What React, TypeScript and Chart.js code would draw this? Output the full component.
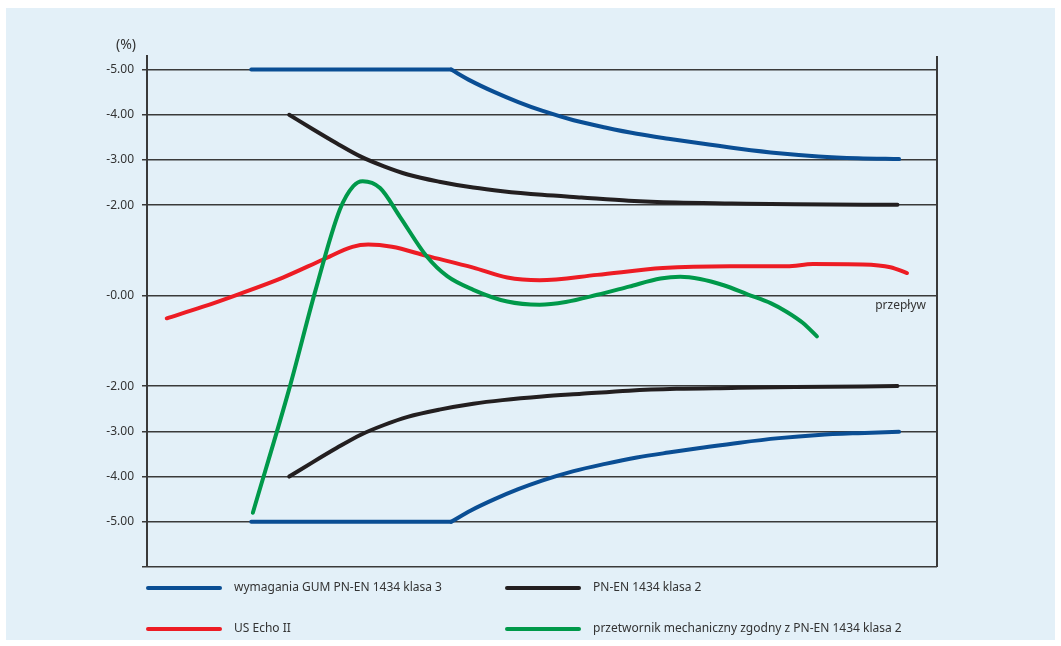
import { useEffect, useRef } from 'react';
import { Chart, registerables } from 'chart.js';

Chart.register(...registerables);

// ---- data (x: flow, arbitrary units 0..100; y: error in %) ----
const GUM_FLAT_X = [13.2, 38.5];
const GUM_UPPER_FLAT_Y = [5.0, 5.0];
const GUM_LOWER_FLAT_Y = [-5.0, -5.0];
const GUM_CURVE_X = [38.5, 41, 44, 47, 50, 54, 58, 62, 66, 70, 75, 80, 85, 90, 95.2];
const GUM_UPPER_CURVE_Y = [5.0, 4.75, 4.5, 4.28, 4.09, 3.88, 3.72, 3.58, 3.47, 3.37, 3.25, 3.15, 3.08, 3.04, 3.02];
const GUM_LOWER_CURVE_Y = [-5.0, -4.75, -4.5, -4.28, -4.09, -3.88, -3.72, -3.58, -3.47, -3.37, -3.25, -3.15, -3.08, -3.04, -3.01];

const PN_X = [18, 21, 24, 27, 30, 33, 37, 41.3, 45, 50, 55, 61, 67, 74, 82, 95];
const PN_UPPER_Y = [4.0, 3.68, 3.37, 3.08, 2.86, 2.68, 2.52, 2.39, 2.31, 2.23, 2.17, 2.1, 2.06, 2.04, 2.02, 2.01];
const PN_LOWER_Y = [-4.0, -3.68, -3.37, -3.08, -2.86, -2.68, -2.52, -2.39, -2.31, -2.23, -2.17, -2.1, -2.06, -2.04, -2.02, -2.0];

const ECHO_X = [2.5, 7, 11.4, 17.2, 22.3, 26, 28, 31, 35.4, 41.3, 45.6, 49.7, 57, 65.3, 73.8, 81, 84.3, 90.6, 94.1, 96.2];
const ECHO_Y = [-0.5, -0.25, 0.02, 0.4, 0.8, 1.08, 1.13, 1.08, 0.88, 0.62, 0.4, 0.34, 0.46, 0.61, 0.65, 0.65, 0.7, 0.69, 0.63, 0.5];

const MECH_X = [13.4, 18.1, 21.3, 24.4, 26.1, 27.3, 29.5, 32, 35.4, 38, 41.3, 45.6, 49.7, 53, 57, 61, 65, 67.5, 70, 73, 76, 79, 81, 83, 84.8];
const MECH_Y = [-4.8, -2.0, 0.1, 1.9, 2.42, 2.53, 2.38, 1.75, 0.87, 0.43, 0.13, -0.13, -0.2, -0.14, 0.02, 0.2, 0.38, 0.42, 0.37, 0.23, 0.03, -0.17, -0.36, -0.6, -0.9];

const Y_TICKS = [5, 4, 3, 2, 0, -2, -3, -4, -5, -6];
const Y_TICK_LABELS = ['-5.00', '-4.00', '-3.00', '-2.00', '-0.00', '-2.00', '-3.00', '-4.00', '-5.00', ''];

const LEGEND_LABELS = [
  'wymagania GUM PN-EN 1434 klasa 3',
  'PN-EN 1434 klasa 2',
  'US Echo II',
  'przetwornik mechaniczny zgodny z PN-EN 1434 klasa 2',
];

const BLUE = '#0a4e94';
const BLACK = '#231f20';
const RED = '#ed1c24';
const GREEN = '#00994a';
const LEGEND_COLORS = [BLUE, BLACK, RED, GREEN];

const UNIT_LABEL = '(%)';
const X_LABEL = 'przepływ';

const FONT = '"Noto Sans", "Open Sans", sans-serif';
const TEXT = '#333333';
const GRID = '#3a3a3a';

const pts = (xs: number[], ys: number[]) => xs.map((x, i) => ({ x, y: ys[i] }));

const line = (label: string, color: string, xs: number[], ys: number[]) => ({
  label,
  data: pts(xs, ys),
  borderColor: color,
  backgroundColor: color,
  borderWidth: 4,
  pointRadius: 0,
  borderCapStyle: 'round' as const,
  borderJoinStyle: 'round' as const,
  cubicInterpolationMode: 'monotone' as const,
  fill: false,
});

const decor = {
  id: 'decor',
  beforeDraw(chart: any) {
    const ctx = chart.ctx;
    ctx.save();
    ctx.fillStyle = '#ffffff';
    ctx.fillRect(0, 0, chart.width, chart.height);
    ctx.fillStyle = '#e3f0f8';
    ctx.fillRect(6, 8, 1049, 632);
    ctx.restore();
  },
  afterDraw(chart: any) {
    const ctx = chart.ctx;
    const { right, top, bottom, left } = chart.chartArea;
    const ys = chart.scales.y;
    ctx.save();
    // right border
    ctx.strokeStyle = GRID;
    ctx.lineWidth = 2;
    ctx.beginPath();
    ctx.moveTo(right, top);
    ctx.lineTo(right, bottom);
    ctx.stroke();
    // unit label
    ctx.fillStyle = TEXT;
    ctx.font = `14px ${FONT}`;
    ctx.textAlign = 'center';
    ctx.textBaseline = 'middle';
    ctx.fillText(UNIT_LABEL, 126, 45);
    // x label
    ctx.font = `12px ${FONT}`;
    ctx.textAlign = 'right';
    ctx.fillText(X_LABEL, right - 11, ys.getPixelForValue(0) + 10);
    // legend
    const rows = [588, 629];
    const cols = [left, 506];
    LEGEND_LABELS.forEach((lab, i) => {
      const col = i % 2;
      const row = Math.floor(i / 2);
      const x0 = cols[col];
      const y0 = rows[row];
      ctx.strokeStyle = LEGEND_COLORS[i];
      ctx.lineWidth = 4;
      ctx.lineCap = 'round';
      ctx.beginPath();
      ctx.moveTo(x0 + 1, y0);
      ctx.lineTo(x0 + 73, y0);
      ctx.stroke();
      ctx.fillStyle = TEXT;
      ctx.font = `12px ${FONT}`;
      ctx.textAlign = 'left';
      ctx.textBaseline = 'middle';
      ctx.fillText(lab, x0 + 87, y0);
    });
    ctx.restore();
  },
};

export default function App() {
  const ref = useRef<HTMLCanvasElement>(null);
  useEffect(() => {
    document.body.style.margin = '0';
    const chart = new Chart(ref.current!, {
      type: 'line',
      data: {
        datasets: [
          line(LEGEND_LABELS[3], GREEN, MECH_X, MECH_Y),
          line(LEGEND_LABELS[2], RED, ECHO_X, ECHO_Y),
          line(LEGEND_LABELS[1], BLACK, PN_X, PN_UPPER_Y),
          line(LEGEND_LABELS[1], BLACK, PN_X, PN_LOWER_Y),
          line(LEGEND_LABELS[0], BLUE, GUM_FLAT_X, GUM_UPPER_FLAT_Y),
          line(LEGEND_LABELS[0], BLUE, GUM_CURVE_X, GUM_UPPER_CURVE_Y),
          line(LEGEND_LABELS[0], BLUE, GUM_FLAT_X, GUM_LOWER_FLAT_Y),
          line(LEGEND_LABELS[0], BLUE, GUM_CURVE_X, GUM_LOWER_CURVE_Y),
        ] as any,
      },
      options: {
        responsive: false,
        devicePixelRatio: 1,
        animation: false,
        layout: { padding: { left: 0, right: 124, top: 56, bottom: 79 } },
        plugins: { legend: { display: false }, tooltip: { enabled: false } },
        scales: {
          x: { type: 'linear', min: 0, max: 100, display: false },
          y: {
            type: 'linear',
            min: -6,
            max: 5.3,
            afterFit: (s: any) => {
              s.width = 147;
            },
            afterBuildTicks: (s: any) => {
              s.ticks = Y_TICKS.map((v) => ({ value: v }));
            },
            ticks: {
              callback: (_v: any, i: number) => Y_TICK_LABELS[i],
              color: TEXT,
              font: { family: FONT, size: 12 },
              padding: 8,
              autoSkip: false,
            },
            grid: { color: GRID, lineWidth: 1.5, tickLength: 5, drawTicks: true },
            border: { display: true, color: GRID, width: 2 },
          },
        },
      },
      plugins: [decor],
    });
    return () => chart.destroy();
  }, []);
  return (
    <canvas
      ref={ref}
      width={1061}
      height={646}
      style={{ display: 'block', width: 1061, height: 646 }}
    />
  );
}
